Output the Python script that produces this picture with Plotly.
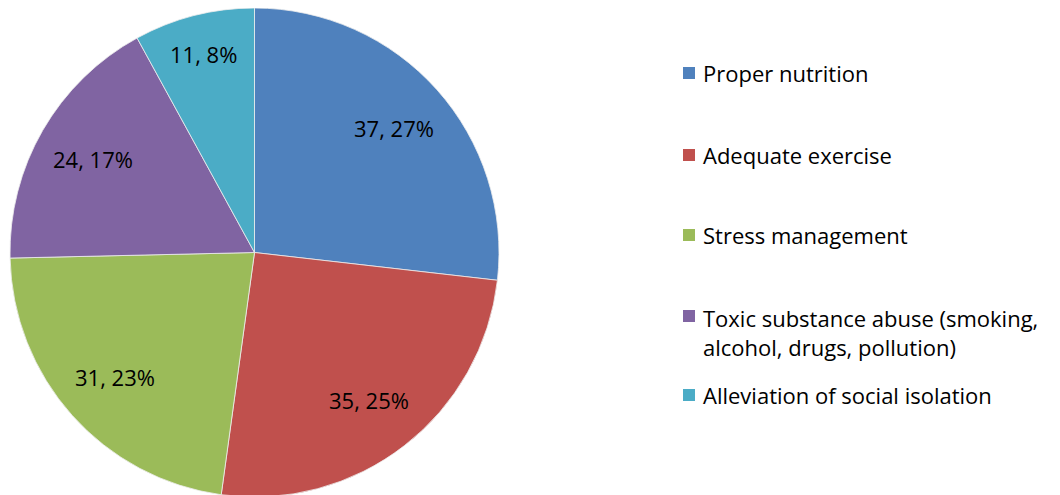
import math
import plotly.graph_objects as go

categorias = ['Proper nutrition', 'Adequate exercise', 'Stress management',
              'Toxic substance abuse (smoking,<br>alcohol, drugs, pollution)',
              'Alleviation of social isolation']
valores = [37, 35, 31, 24, 11]
porcentajes = [27, 25, 23, 17, 8]  # tal como aparecen en el gráfico original
colores = ['#4F81BD', '#C0504D', '#9BBB59', '#8064A2', '#4BACC6']

fuente = 'Open Sans'
W, H = 1060, 495
OFF = 8  # margen del body de la página

# dominio del pie en px (coordenadas de la figura)
x0_px, x1_px = 2, 491
dominio_x = [x0_px / W, x1_px / W]
dominio_y = [(H - (x1_px - x0_px)) / H, 1.0]

fig = go.Figure(go.Pie(
    labels=categorias,
    values=valores,
    sort=False,
    direction='clockwise',
    rotation=0,
    marker=dict(colors=colores, line=dict(color='#EDEDED', width=0.8)),
    textinfo='none',
    domain=dict(x=dominio_x, y=dominio_y),
    showlegend=False,
    hoverinfo='label+value+percent',
))

# etiquetas de datos colocadas en el ángulo medio de cada porción
radio = (x1_px - x0_px) / 2
cx = (x0_px + x1_px) / 2
cy = radio  # desde arriba
total = sum(valores)
acum = 0
for v, p in zip(valores, porcentajes):
    ang = (acum + v / 2) / total * 2 * math.pi
    acum += v
    r = 0.765 * radio if v / total > 0.1 else 0.84 * radio
    px = cx + r * math.sin(ang)
    py = cy - r * math.cos(ang)
    fig.add_annotation(x=px / W, y=1 - py / H, xref='paper', yref='paper',
                       text=f'{v}, {p}%', showarrow=False,
                       xanchor='center', yanchor='middle',
                       font=dict(family=fuente, size=22, color='black'))

# leyenda dibujada a mano para respetar el espaciado del original
posiciones_y = [73, 155, 235, 332, 395]  # px desde arriba (centro del texto)
for cat, col, yy in zip(categorias, colores, posiciones_y):
    yy -= OFF
    y_cuadro = yy if '<br>' not in cat else yy - 16
    fig.add_shape(type='rect', xref='paper', yref='paper',
                  x0=(683 - OFF) / W, x1=(695 - OFF) / W,
                  y0=1 - (y_cuadro + 6) / H, y1=1 - (y_cuadro - 6) / H,
                  fillcolor=col, line=dict(width=0))
    fig.add_annotation(x=(701 - OFF) / W, y=1 - yy / H, xref='paper', yref='paper',
                       text=cat, showarrow=False, xanchor='left', yanchor='middle',
                       align='left', font=dict(family=fuente, size=22, color='black'))

fig.update_layout(
    width=W, height=H,
    margin=dict(l=0, r=0, t=0, b=0),
    paper_bgcolor='white',
    plot_bgcolor='white',
)

fig.write_html('out.html')
